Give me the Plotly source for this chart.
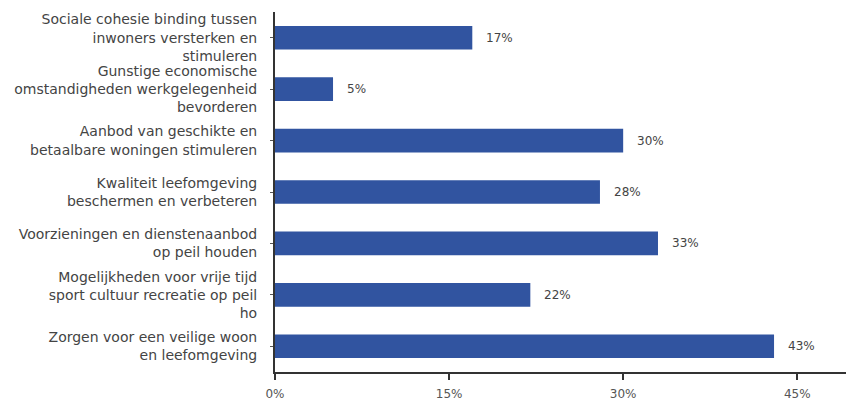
import plotly.graph_objects as go

categories = [
    "Sociale cohesie binding tussen<br>inwoners versterken en<br>stimuleren",
    "Gunstige economische<br>omstandigheden werkgelegenheid<br>bevorderen",
    "Aanbod van geschikte en<br>betaalbare woningen stimuleren",
    "Kwaliteit leefomgeving<br>beschermen en verbeteren",
    "Voorzieningen en dienstenaanbod<br>op peil houden",
    "Mogelijkheden voor vrije tijd<br>sport cultuur recreatie op peil<br>ho",
    "Zorgen voor een veilige woon<br>en leefomgeving",
]
values = [17, 5, 30, 28, 33, 22, 43]
value_labels = ["17%", "5%", "30%", "28%", "33%", "22%", "43%"]
x_ticks = [0, 15, 30, 45]
x_tick_labels = ["0%", "15%", "30%", "45%"]

font_family = "DejaVu Sans, sans-serif"

fig = go.Figure(
    go.Bar(
        x=values,
        y=categories,
        orientation="h",
        marker=dict(color="#3154a0", line=dict(width=0)),
        width=0.46,
        hoverinfo="skip",
    )
)

for v, c, t in zip(values, categories, value_labels):
    fig.add_annotation(
        x=v, y=c, text=t, showarrow=False, xanchor="left", xshift=12,
        font=dict(family=font_family, size=12, color="#444444"),
    )

fig.update_layout(
    width=846, height=403,
    margin=dict(l=275, r=0, t=12, b=31),
    paper_bgcolor="white", plot_bgcolor="white",
    showlegend=False,
    font=dict(family=font_family, size=14, color="#444444"),
)
fig.update_xaxes(
    range=[0, 49.2], tickvals=x_ticks, ticktext=x_tick_labels,
    showgrid=False, zeroline=False, showline=True, linecolor="#333333", linewidth=2,
    ticks="outside", ticklen=6, tickwidth=2, tickcolor="#333333",
    tickfont=dict(size=12, color="#555555"), ticklabelstandoff=4, automargin=False,
)
fig.update_yaxes(
    autorange="reversed", showgrid=False, zeroline=False,
    showline=True, linecolor="#333333", linewidth=2,
    ticks="outside", ticklen=3, tickwidth=1, tickcolor="#555555",
    tickfont=dict(size=14, color="#444444"), ticklabelstandoff=10,
    automargin=False,
)

fig.write_html(
    "out.html",
    config={"displayModeBar": False},
    post_script="document.body.style.margin='0';document.body.style.overflow='hidden';",
)
